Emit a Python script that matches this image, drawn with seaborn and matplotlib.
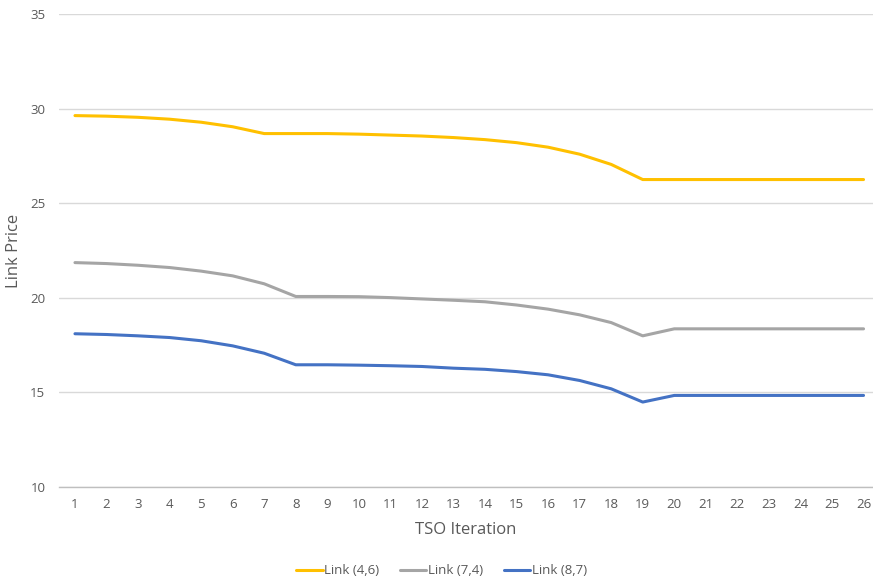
import matplotlib
matplotlib.use("Agg")
import matplotlib.pyplot as plt
import seaborn as sns
import pandas as pd

iterations = list(range(1, 27))
link_46 = [29.63, 29.60, 29.54, 29.44, 29.28, 29.04, 28.68, 28.68, 28.68, 28.65, 28.60, 28.55, 28.47,
           28.36, 28.20, 27.96, 27.59, 27.05, 26.25, 26.25, 26.25, 26.25, 26.25, 26.25, 26.25, 26.25]
link_74 = [21.86, 21.81, 21.72, 21.60, 21.41, 21.16, 20.74, 20.07, 20.07, 20.06, 20.01, 19.94, 19.87,
           19.79, 19.62, 19.40, 19.10, 18.69, 17.99, 18.36, 18.36, 18.36, 18.36, 18.36, 18.36, 18.36]
link_87 = [18.10, 18.06, 17.99, 17.90, 17.73, 17.46, 17.07, 16.46, 16.46, 16.44, 16.41, 16.37, 16.28,
           16.22, 16.10, 15.93, 15.63, 15.19, 14.49, 14.84, 14.84, 14.84, 14.84, 14.84, 14.84, 14.84]
series_names = ["Link (4,6)", "Link (7,4)", "Link (8,7)"]
colors = ["#FFC000", "#A5A5A5", "#4472C4"]
y_ticks = [10, 15, 20, 25, 30, 35]

rows = []
for name, vals in zip(series_names, [link_46, link_74, link_87]):
    for it, v in zip(iterations, vals):
        rows.append({"TSO Iteration": it, "Link Price": v, "Series": name})
df = pd.DataFrame(rows)

sns.set_theme(style="white")
plt.rcParams["font.family"] = ["Open Sans", "DejaVu Sans"]

fig = plt.figure(figsize=(8.73, 5.82), dpi=100)
W, H = 873, 582
left_px, right_px, top_px, bottom_px = 59.2, 873, 14, 487
ax = fig.add_axes([left_px / W, 1 - bottom_px / H, (right_px - left_px) / W, (bottom_px - top_px) / H])

sns.lineplot(data=df, x="TSO Iteration", y="Link Price", hue="Series",
             palette=dict(zip(series_names, colors)), linewidth=2.2, ax=ax,
             legend=True, zorder=3)

ax.set_xlim(0.5, 26.3)
ax.set_ylim(10, 35)
ax.set_xticks(iterations)
ax.set_xticklabels([str(i) for i in iterations])
ax.set_yticks(y_ticks)
ax.grid(axis="y", color="#D9D9D9", linewidth=1.0, zorder=0)
ax.grid(axis="x", visible=False)
for s in ["top", "right", "left"]:
    ax.spines[s].set_visible(False)
ax.spines["bottom"].set_color("#BFBFBF")
ax.spines["bottom"].set_linewidth(1.0)
ax.tick_params(axis="both", length=0, labelsize=9.5, colors="#595959")
ax.tick_params(axis="x", pad=8)
ax.tick_params(axis="y", pad=10)
ax.set_xlabel("TSO Iteration", fontsize=12, color="#595959", labelpad=8)
ax.set_ylabel("Link Price", fontsize=12, color="#595959", labelpad=6)

handles, labels = ax.get_legend_handles_labels()
ax.legend(handles, labels, loc="center",
          bbox_to_anchor=(0.5 + (441.5 - (left_px + right_px) / 2) / (right_px - left_px),
                          1 - (571 - top_px) / (bottom_px - top_px)),
          ncol=3, frameon=False, fontsize=9.5, labelcolor="#595959", handlelength=2.0,
          handletextpad=0.1, columnspacing=1.6)

fig.savefig("out.png", dpi=100)
